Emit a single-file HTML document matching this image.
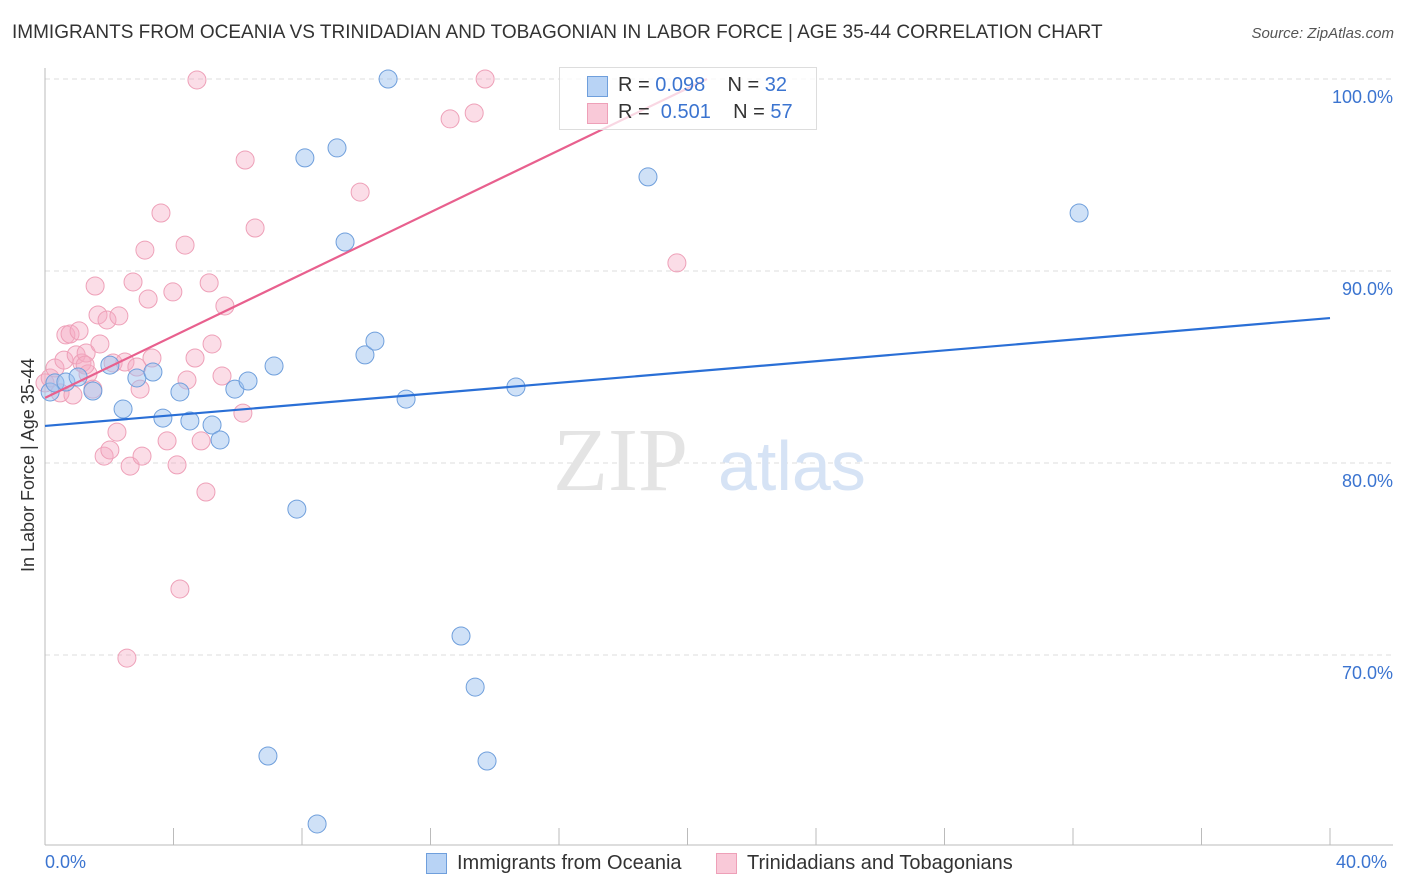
<!DOCTYPE html>
<html><head><meta charset="utf-8"><style>
body{margin:0;background:#fff;font-family:"Liberation Sans",sans-serif;}
#wrap{position:relative;width:1406px;height:892px;overflow:hidden;}
.t{position:absolute;white-space:nowrap;}
</style></head><body>
<div id="wrap">
<div class="t" style="left:12px;top:22px;font-size:19px;color:#333;">IMMIGRANTS FROM OCEANIA VS TRINIDADIAN AND TOBAGONIAN IN LABOR FORCE | AGE 35-44 CORRELATION CHART</div>
<div class="t" style="right:12px;top:25px;font-size:15px;color:#555;font-style:italic;">Source: ZipAtlas.com</div>
<svg id="svg" width="1406" height="892" style="position:absolute;left:0;top:0"></svg>
</div>
<script>
const blueX=[0.16,0.31,0.65,1.03,1.49,2.02,2.43,2.86,3.36,3.67,4.20,4.51,5.20,5.45,5.91,6.32,7.13,7.84,8.09,9.09,9.34,9.96,10.27,10.68,11.24,12.95,13.39,13.76,14.66,18.77,32.19,6.94,8.47];
const blueY=[83.70,84.17,84.22,84.48,83.75,85.10,82.81,84.43,84.74,82.34,83.70,82.19,81.98,81.20,83.85,84.27,85.05,77.60,95.89,96.41,91.51,85.63,86.35,100,83.33,70.99,68.33,64.48,83.96,94.90,93.02,64.74,61.20];
const pinkX=[0,0.16,0.31,0.47,0.59,0.65,0.78,0.87,0.97,1.06,1.15,1.28,1.34,1.49,1.56,1.65,1.71,1.84,1.93,2.02,2.12,2.24,2.30,2.49,2.55,2.65,2.74,2.86,2.96,3.02,3.11,3.21,3.33,3.61,3.80,3.98,4.11,4.20,4.36,4.42,4.67,4.73,4.86,5.01,5.11,5.20,5.51,5.60,6.16,6.23,6.54,9.81,12.61,13.36,13.70,19.67,1.25];
const pinkY=[84.17,84.43,84.95,83.65,85.36,86.67,86.72,83.54,85.63,86.88,85.21,85.73,84.64,83.85,89.22,87.71,86.20,80.36,87.45,80.68,85.21,81.61,87.66,85.26,69.84,79.84,89.43,85.00,83.85,80.36,91.09,88.54,85.47,93.02,81.15,88.91,79.90,73.44,91.35,84.32,85.47,99.95,81.15,78.49,89.38,86.20,84.53,88.18,82.60,95.78,92.24,94.11,97.92,98.23,100,90.42,85.10];
const blueTrend=[81.93,87.55]; // y at x=0 and x=40
const pinkTrend=[83.39,0.806]; // intercept, slope
const yTicks=[100,90,80,70];
const NS='http://www.w3.org/2000/svg';
const svg=document.getElementById('svg');
const X=v=>45+v/40*1285, Y=v=>79+(100-v)*19.2;
function el(tag,attrs,parent){const e=document.createElementNS(NS,tag);for(const k in attrs)e.setAttribute(k,attrs[k]);(parent||svg).appendChild(e);return e;}
yTicks.forEach(v=>{
 const g=el('line',{x1:45,x2:1393,y1:Y(v),y2:Y(v),stroke:'#ddd','stroke-dasharray':'5,4'});
 
 
 const t=el('text',{x:1393,y:Y(v)+24,'text-anchor':'end','font-size':18,fill:'#3b74d0','font-family':'Liberation Sans, sans-serif'});
 t.textContent=v.toFixed(1)+'%';
 
 
});
el('line',{x1:45,x2:45,y1:68,y2:845,stroke:'#bbb'});
el('line',{x1:45,x2:1393,y1:845,y2:845,stroke:'#bbb'});
for(let i=0;i<=10;i++){const tk=el('line',{x1:X(i*4),x2:X(i*4),y1:828,y2:845,stroke:'#bbb'});
 
 }
const wm=el('text',{x:553,y:490,'font-size':90,fill:'#e4e4e4','font-family':'Liberation Serif, serif'});wm.textContent='ZIP';
const wm2=el('text',{x:718,y:490,'font-size':70,fill:'#d6e3f5','font-family':'Liberation Sans, sans-serif'});wm2.textContent='atlas';
function pts(xs,ys,fill,stroke,name){xs.forEach((x,i)=>{const c=el('circle',{cx:X(x),cy:Y(ys[i]),r:9,fill:fill,stroke:stroke,'stroke-width':1});
 
 });}
pts(pinkX,pinkY,'rgba(245,170,195,0.4)','#eea0b8','pink-point');
pts(blueX,blueY,'rgba(160,195,240,0.5)','#6f9fdc','blue-point');
const bl=el('line',{x1:X(0),y1:Y(blueTrend[0]),x2:X(40),y2:Y(blueTrend[1]),stroke:'#2a6fd6','stroke-width':2.2});


const pe=(100-pinkTrend[0])/pinkTrend[1];
const pl=el('line',{x1:X(0),y1:Y(pinkTrend[0]),x2:X(pe),y2:Y(100),stroke:'#e8608e','stroke-width':2.2});


</script>
<div class="t" style="left:559px;top:67px;width:256px;height:61px;border:1px solid #ddd;background:rgba(255,255,255,0.75);">
 <div class="t" style="left:27px;top:8px;width:19px;height:19px;background:#b8d3f5;border:1px solid #6f9fdc;"></div>
 <div class="t" style="left:58px;top:6px;font-size:20px;color:#333;">R = <span style="color:#3b74d0">0.098</span>&nbsp;&nbsp;&nbsp; N = <span style="color:#3b74d0">32</span></div>
 <div class="t" style="left:27px;top:35px;width:19px;height:19px;background:#f9c9d8;border:1px solid #eea0b8;"></div>
 <div class="t" style="left:58px;top:33px;font-size:20px;color:#333;">R = &nbsp;<span style="color:#3b74d0">0.501</span>&nbsp;&nbsp;&nbsp; N = <span style="color:#3b74d0">57</span></div>
</div>
<div class="t" style="left:18px;top:572px;font-size:18px;color:#333;transform:rotate(-90deg);transform-origin:0 0;">In Labor Force | Age 35-44</div>
<div class="t" style="left:45px;top:852px;font-size:18px;color:#3b74d0;">0.0%</div>
<div class="t" style="left:1336px;top:852px;font-size:18px;color:#3b74d0;">40.0%</div>
<div class="t" style="left:426px;top:853px;width:19px;height:19px;background:#b8d3f5;border:1px solid #6f9fdc;"></div>
<div class="t" style="left:457px;top:852px;font-size:20px;color:#333;">Immigrants from Oceania</div>
<div class="t" style="left:716px;top:853px;width:19px;height:19px;background:#f9c9d8;border:1px solid #eea0b8;"></div>
<div class="t" style="left:747px;top:852px;font-size:20px;color:#333;">Trinidadians and Tobagonians</div>
</body></html>
